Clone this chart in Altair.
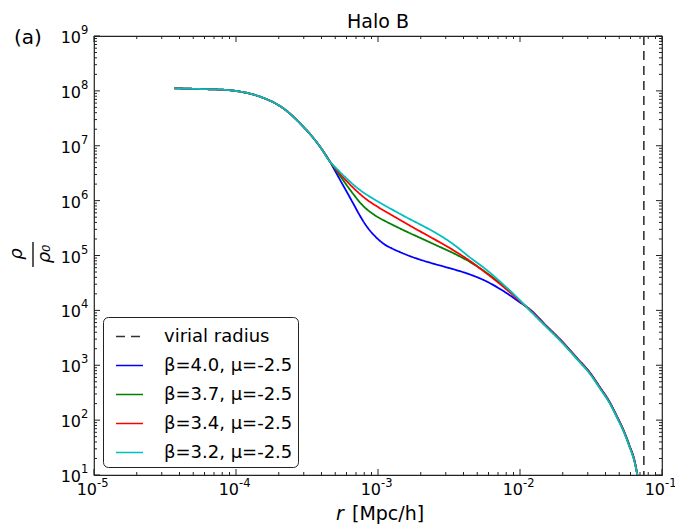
import altair as alt
import pandas as pd

# ---------------- data ----------------
r_mpc = [3.677e-5, 5.577e-5, 8.60e-5, 1.157e-4, 1.476e-4, 2.153e-4, 2.979e-4, 3.908e-4, 4.592e-4,
         5.058e-4, 5.572e-4, 6.152e-4, 6.776e-4, 7.464e-4, 8.222e-4, 9.08e-4, 1.0e-3, 1.119e-3,
         1.256e-3, 1.429e-3, 1.679e-3, 1.977e-3, 2.518e-3, 3.373e-3, 4.446e-3, 5.768e-3,
         7.228e-3, 8.511e-3, 1.0e-2,
         1.175e-2, 1.524e-2, 2.018e-2, 2.518e-2, 3.112e-2, 3.656e-2, 4.305e-2, 4.819e-2,
         5.333e-2, 5.861e-2, 6.457e-2, 6.730e-2]

# log10(rho/rho0) for each curve
head = [8.047, 8.034, 8.016, 7.970, 7.894, 7.682, 7.347, 6.983, 6.709]
logrho_b40 = head + [6.513, 6.316, 6.119, 5.922, 5.725, 5.550, 5.408, 5.299, 5.197, 5.128,
                     5.062, 4.989, 4.925, 4.843, 4.752, 4.654, 4.532, 4.391, 4.273, 4.145] + \
    [4.019, 3.727, 3.412, 3.135, 2.865, 2.601, 2.319, 2.069, 1.832, 1.559, 1.225, 0.98]
logrho_b37 = head + [6.558, 6.403, 6.248, 6.103, 5.966, 5.856, 5.769, 5.698, 5.629, 5.563,
                     5.492, 5.406, 5.323, 5.197, 5.046, 4.882, 4.690, 4.499, 4.353, 4.171] + \
    [4.007, 3.715, 3.400, 3.123, 2.853, 2.589, 2.307, 2.057, 1.820, 1.547, 1.213, 0.98]
logrho_b34 = head + [6.576, 6.449, 6.330, 6.221, 6.121, 6.030, 5.953, 5.884, 5.807, 5.733,
                     5.647, 5.543, 5.441, 5.290, 5.100, 4.900, 4.681, 4.481, 4.326, 4.167] + \
    [4.007, 3.715, 3.400, 3.123, 2.853, 2.589, 2.307, 2.057, 1.820, 1.547, 1.213, 0.98]
logrho_b32 = head + [6.595, 6.485, 6.380, 6.281, 6.194, 6.117, 6.048, 5.982, 5.909, 5.838,
                     5.758, 5.662, 5.567, 5.421, 5.210, 4.964, 4.745, 4.526, 4.357, 4.184] + \
    [3.995, 3.703, 3.388, 3.111, 2.841, 2.577, 2.295, 2.045, 1.808, 1.535, 1.201, 0.98]

series_labels = ["β=4.0, μ=-2.5", "β=3.7, μ=-2.5", "β=3.4, μ=-2.5", "β=3.2, μ=-2.5"]
series_values = [logrho_b40, logrho_b37, logrho_b34, logrho_b32]
series_colors = ["#0000ff", "#008000", "#ff0000", "#00bfbf"]

virial_label = "virial radius"
virial_radius = [0.0745]

x_major = [1e-5, 1e-4, 1e-3, 1e-2, 1e-1]
x_exp = ["-5", "-4", "-3", "-2", "-1"]
y_major = [1e1, 1e2, 1e3, 1e4, 1e5, 1e6, 1e7, 1e8, 1e9]
y_exp = ["1", "2", "3", "4", "5", "6", "7", "8", "9"]
x_minor = [k * 10.0 ** d for d in range(-5, -1) for k in range(2, 10)]
y_minor = [k * 10.0 ** d for d in range(1, 9) for k in range(2, 10)]

# ---------------- layout ----------------
W, H = 568, 439
FONT = "DejaVu Sans"
FRAME = "#222222"

rows = []
for lab, vals in zip(series_labels, series_values):
    for r, lv in zip(r_mpc, vals):
        rows.append({"r": r, "rho": 10 ** lv, "series": lab})
df = pd.DataFrame(rows)

domain = [virial_label] + series_labels
color_scale = alt.Scale(domain=domain, range=["#333333"] + series_colors)
dash_scale = alt.Scale(domain=domain, range=[[9, 6], [1, 0], [1, 0], [1, 0], [1, 0]])
legend = alt.Legend(orient="none", legendX=9, legendY=281, title=None,
                    symbolType="stroke", symbolSize=729, symbolStrokeWidth=1.7,
                    labelFont=FONT, labelFontSize=18, labelColor="black",
                    labelOffset=20, padding=5, rowPadding=5, symbolOffset=7,
                    strokeColor=FRAME, fillColor="white", cornerRadius=5)

xscale = alt.Scale(type="log", domain=[1e-5, 1e-1], nice=False)
yscale = alt.Scale(type="log", domain=[1e1, 1e9], nice=False)

lines = alt.Chart(df).mark_line(strokeWidth=1.8, clip=True, interpolate="monotone").encode(
    x=alt.X("r:Q", scale=xscale, axis=None),
    y=alt.Y("rho:Q", scale=yscale, axis=None),
    color=alt.Color("series:N", scale=color_scale, legend=legend),
    strokeDash=alt.StrokeDash("series:N", scale=dash_scale, legend=legend),
)

vline = alt.Chart(pd.DataFrame({"r": virial_radius, "series": [virial_label]})).mark_rule(
    strokeWidth=1.6).encode(
    x=alt.X("r:Q", scale=xscale, axis=None),
    color=alt.Color("series:N", scale=color_scale, legend=legend),
    strokeDash=alt.StrokeDash("series:N", scale=dash_scale, legend=legend),
)


def xticks(vals, L):
    d = pd.DataFrame({"xv": vals})
    b = alt.Chart(d).mark_rule(color=FRAME, strokeWidth=1).encode(
        x=alt.X("xv:Q", scale=xscale, axis=None), y=alt.value(H - L), y2=alt.value(H))
    t = alt.Chart(d).mark_rule(color=FRAME, strokeWidth=1).encode(
        x=alt.X("xv:Q", scale=xscale, axis=None), y=alt.value(0), y2=alt.value(L))
    return [b, t]


def yticks(vals, L):
    d = pd.DataFrame({"yv": vals})
    lft = alt.Chart(d).mark_rule(color=FRAME, strokeWidth=1).encode(
        y=alt.Y("yv:Q", scale=yscale, axis=None), x=alt.value(0), x2=alt.value(L))
    rgt = alt.Chart(d).mark_rule(color=FRAME, strokeWidth=1).encode(
        y=alt.Y("yv:Q", scale=yscale, axis=None), x=alt.value(W - L), x2=alt.value(W))
    return [lft, rgt]


tick_layers = xticks(x_major, 6) + xticks(x_minor, 3) + yticks(y_major, 6) + yticks(y_minor, 3)

# tick labels: "10" with a superscript exponent
xl = pd.DataFrame({"xv": x_major, "e": x_exp, "b": ["10"] * len(x_major)})
yl = pd.DataFrame({"yv": y_major, "e": y_exp, "b": ["10"] * len(y_major)})
xlab_base = alt.Chart(xl).mark_text(font=FONT, fontSize=16, align="right", baseline="alphabetic",
                                    dx=3, color="black").encode(
    x=alt.X("xv:Q", scale=xscale, axis=None), y=alt.value(H + 20), text="b:N")
xlab_exp = alt.Chart(xl).mark_text(font=FONT, fontSize=11.5, align="left", baseline="alphabetic",
                                   dx=3, color="black").encode(
    x=alt.X("xv:Q", scale=xscale, axis=None), y=alt.value(H + 12), text="e:N")
ylab_base = alt.Chart(yl).mark_text(font=FONT, fontSize=16, align="right", baseline="alphabetic",
                                    dy=7, color="black").encode(
    y=alt.Y("yv:Q", scale=yscale, axis=None), x=alt.value(-13), text="b:N")
ylab_exp = alt.Chart(yl).mark_text(font=FONT, fontSize=11.5, align="left", baseline="alphabetic",
                                   dy=-2, color="black").encode(
    y=alt.Y("yv:Q", scale=yscale, axis=None), x=alt.value(-13), text="e:N")


def label(text, x, y, size, angle=0, style="normal", align="center", baseline="middle"):
    return alt.Chart(pd.DataFrame({"t": [text]})).mark_text(
        font=FONT, fontSize=size, fontStyle=style, angle=angle, align=align,
        baseline=baseline, color="black").encode(
        x=alt.value(x), y=alt.value(y), text="t:N")


title = label("Halo B", W / 2, -8, 19, baseline="alphabetic")
panel = label("(a)", -66, 2, 20)
ylab_num = label("ρ", -77, 218, 18, angle=270, style="italic")
ylab_den = label("ρ₀", -49, 218, 18, angle=270, style="italic")
ylab_bar = alt.Chart(pd.DataFrame({"t": [0]})).mark_rule(color="black", strokeWidth=1.3).encode(
    x=alt.value(-61), y=alt.value(206), y2=alt.value(231))
xlab_r = label("r", 242, 478, 19, style="italic", align="left")
xlab_u = label("[Mpc/h]", 258, 478, 19, align="left")

chart = alt.layer(
    lines, vline, *tick_layers, xlab_base, xlab_exp, ylab_base, ylab_exp,
    title, panel, ylab_num, ylab_den, ylab_bar, xlab_r, xlab_u
).properties(
    width=W, height=H,
    padding={"left": 94, "top": 36, "right": 13, "bottom": 53},
    autosize=alt.AutoSizeParams(type="none"),
).configure_view(stroke=FRAME, strokeWidth=1.2)

chart.save("out.html", embed_options={"renderer": "svg", "actions": False})
